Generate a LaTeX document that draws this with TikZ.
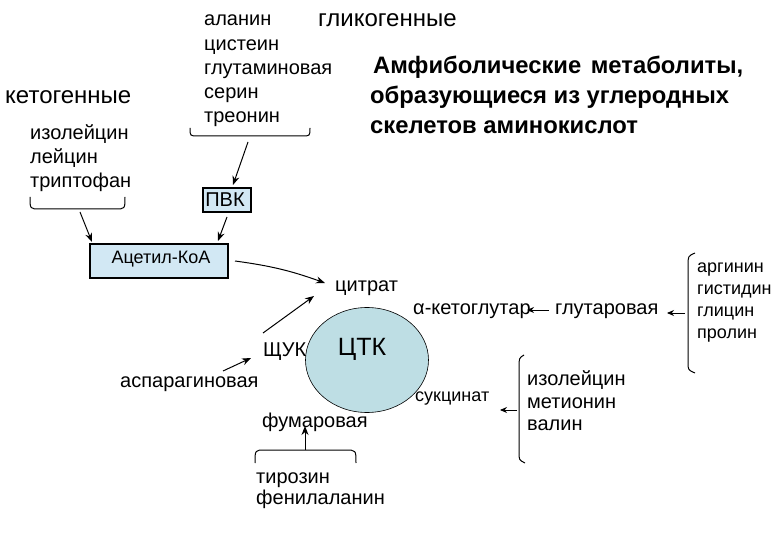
\documentclass[tikz,border=0pt]{standalone}
\usepackage{fontspec}
\setmainfont{Liberation Sans}
\usetikzlibrary{arrows.meta,shapes.geometric}
\definecolor{boxblue}{RGB}{210,232,244}
\definecolor{tcablue}{RGB}{190,222,228}
\tikzset{
  txt/.style={inner sep=0pt, anchor=base west, font=\fontsize{20}{24}\selectfont},
  head/.style={inner sep=0pt, anchor=base west, font=\fontsize{24}{28}\selectfont},
  small/.style={inner sep=0pt, anchor=base west, font=\fontsize{18}{22}\selectfont},
  title/.style={inner sep=0pt, anchor=base west, font=\fontsize{23.8}{30}\selectfont\bfseries},
  arr/.style={-{Stealth[length=9pt,width=7pt]}, line width=1pt},
  sarr/.style={-{Stealth[length=7pt,width=6pt]}, line width=0.9pt},
  brace/.style={line width=1pt},
  metbox/.style={draw, line width=2.5pt, fill=boxblue, inner sep=0pt}
}
\begin{document}
\begin{tikzpicture}[x=1pt,y=-1pt]
\useasboundingbox (0,0) rectangle (780,540);
% glycogenic
\node[txt] (g1) at (204,26) {аланин};
\node[txt] (g2) at (204,51) {цистеин};
\node[txt] (g3) at (204,75) {глутаминовая};
\node[txt] (g4) at (204,99) {серин};
\node[txt] (g5) at (204,123) {треонин};
\node[head] (glyh) at (318,27) {гликогенные};
\draw[brace] (190,128) .. controls (190,136) .. (198,136) -- (302,136) .. controls (310,136) .. (310,128);
\coordinate (glyb) at (248,142);
% ketogenic
\node[head] (keto) at (5,104) {кетогенные};
\node[txt] (k1) at (30,140) {изолейцин};
\node[txt] (k2) at (30,164) {лейцин};
\node[txt] (k3) at (30,188) {триптофан};
\draw[brace] (30,197) .. controls (30,209) .. (40,209) -- (115,209) .. controls (125,209) .. (125,197);
\coordinate (ketb) at (80,212);
% title
\node[title] (t1) at (373,74) {Амфиболические\hspace{0.4em}метаболиты,};
\node[title] (t2) at (370,104) {образующиеся из углеродных};
\node[title] (t3) at (370,134) {скелетов аминокислот};
% boxes
\path[metbox] (203,188) rectangle (251,212);
\node[inner sep=0pt, font=\fontsize{20}{24}\selectfont] (pvk) at (225,200) {ПВК};
\coordinate (pvkb) at (227,217);
\path[metbox] (90,244) rectangle (228,278);
\node[inner sep=0pt, font=\fontsize{18}{24}\selectfont] (acoa) at (161,259) {Ацетил-КоА};
\draw[arr] (glyb) -- (233,185);
\draw[arr] (pvkb) -- (218,241);
\draw[arr] (ketb) -- (92,242);
% TCA
\node[draw, ellipse, fill=tcablue, line width=0.6pt, minimum width=123pt, minimum height=105pt, inner sep=0pt] (tca) at (367,360) {};
\node[inner sep=0pt, font=\fontsize{25}{28}\selectfont] (tcat) at (362,349) {ЦТК};
\node[txt] (cit) at (335,292) {цитрат};
\node[txt] (oaa) at (263,356) {ЩУК};
\node[txt] (asp) at (120,388) {аспарагиновая};
\node[txt] (fum) at (262,428) {фумаровая};
\node[small] (succ) at (415,401) {сукцинат};
\node[txt] (akg) at (413,315) {α-кетоглутар};
\node[txt] (glut) at (555,315) {глутаровая};
\draw[arr] (235,261) to[bend left=6] (325,283);
\draw[arr] (263,333) -- (314,296);
\draw[arr] (223,371) -- (251,358);
% fumarate sources
\draw[brace] (255,463) .. controls (255,450) .. (265,450) -- (345,450) .. controls (356,450) .. (356,463);
\coordinate (fumb) at (305,450);
\draw[arr] (fumb) -- (305,426);
\node[txt] (ty1) at (256,483) {тирозин};
\node[txt] (ty2) at (256,504) {фенилаланин};
% glutarate sources
\draw[brace] (695,253) .. controls (688,256) .. (688,266) -- (688,362) .. controls (688,370) .. (695,373);
\node[small] (a1) at (697,273) {аргинин};
\node[small] (a2) at (697,295) {гистидин};
\node[small] (a3) at (697,317) {глицин};
\node[small] (a4) at (697,339) {пролин};
\coordinate (argb) at (685,313);
\draw[sarr] (argb) -- (667,313);
\draw[sarr] (glut.west |- 0,310) ++(-6,0) -- (527,310);
% succinate sources
\draw[brace] (524,355) .. controls (519,358) .. (519,368) -- (519,452) .. controls (519,460) .. (525,463);
\node[txt] (i1) at (527,385) {изолейцин};
\node[txt] (i2) at (527,408) {метионин};
\node[txt] (i3) at (527,431) {валин};
\coordinate (ileb) at (517,410);
\draw[sarr] (ileb) -- (500,410);
\end{tikzpicture}
\end{document}
